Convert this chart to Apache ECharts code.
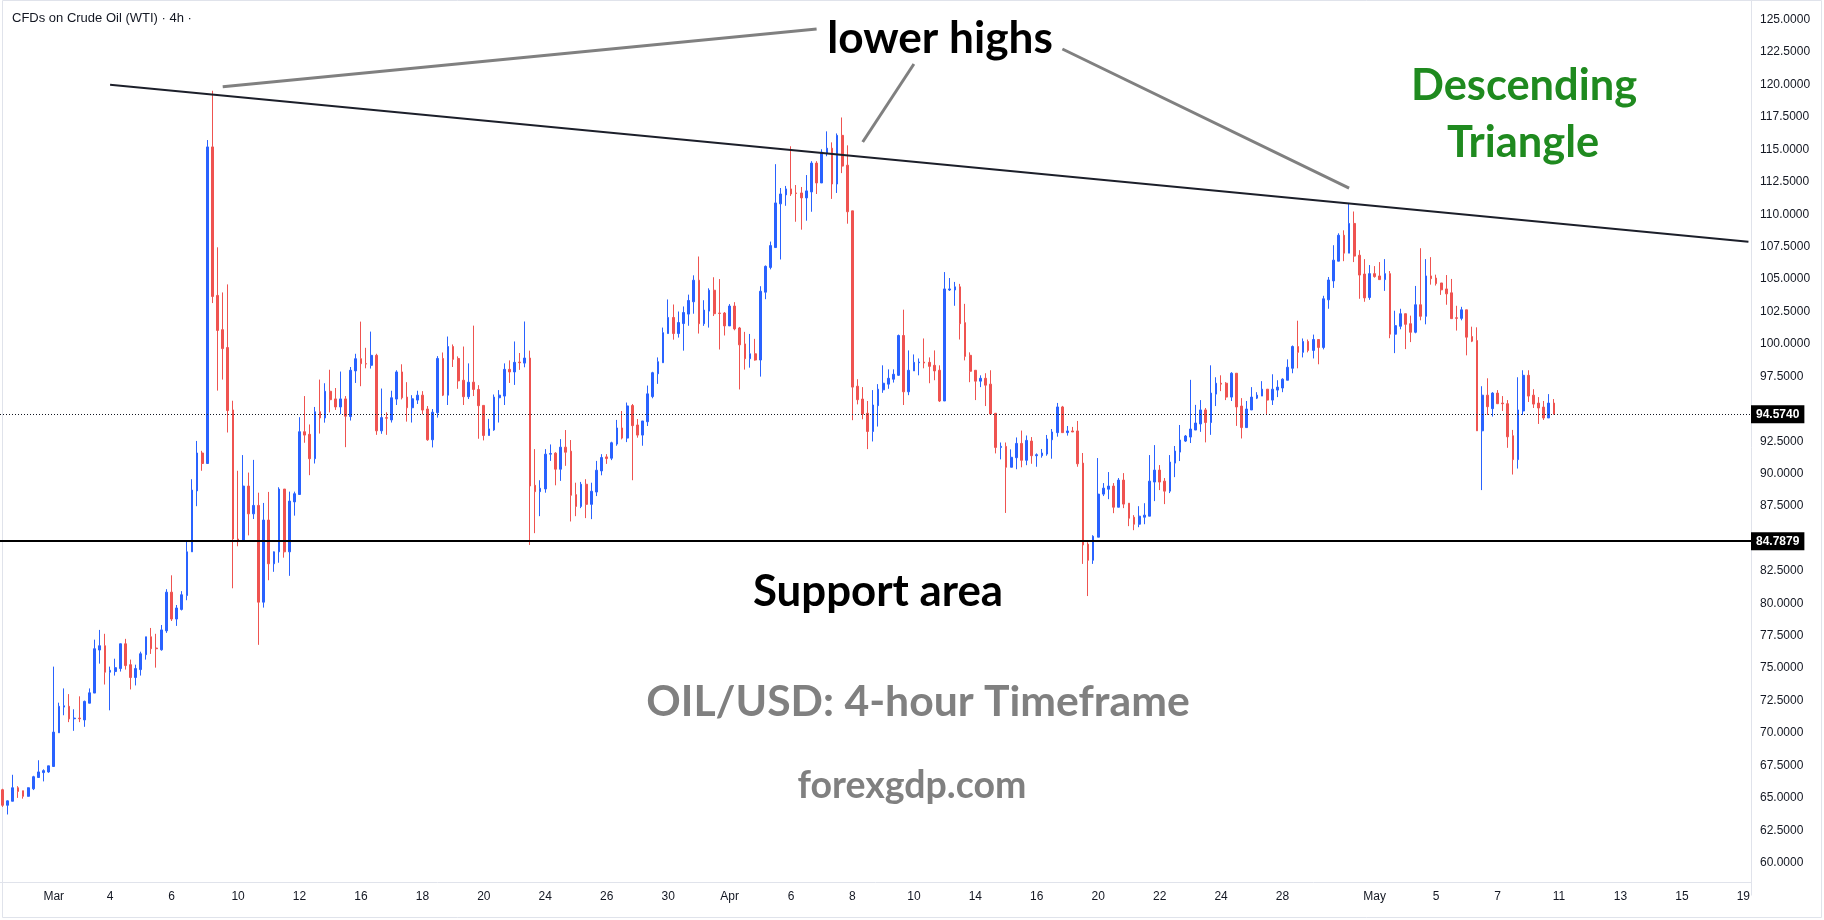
<!DOCTYPE html>
<html><head><meta charset="utf-8">
<script src="https://cdn.jsdelivr.net/npm/echarts@6/dist/echarts.min.js"></script>
<style>html,body{margin:0;padding:0;background:#fff}#c{width:1824px;height:920px}</style>
</head><body><div id="c"></div><script>
// ---- data (4h candles) ----
const openVals = [65.63,64.43,64.74,65.78,65.55,65.12,65.70,66.57,66.95,67.00,67.42,70.02,72.00,72.06,71.10,71.15,71.01,72.30,73.08,76.40,76.73,74.69,74.74,74.97,76.88,75.27,74.28,74.89,76.04,77.42,76.55,76.42,77.88,80.86,78.79,79.53,80.60,83.97,88.67,91.59,90.78,115.19,103.74,101.10,99.72,94.91,84.96,84.79,89.04,86.90,87.55,80.09,86.42,83.05,83.97,88.81,83.97,87.82,88.39,93.23,93.03,91.15,94.77,94.29,96.35,95.76,95.14,95.76,94.40,97.92,98.86,98.48,98.35,99.12,93.30,94.32,94.14,95.75,97.84,95.90,95.08,95.67,96.05,94.98,92.61,94.70,98.88,96.05,99.80,98.88,97.20,95.93,97.05,96.49,95.26,92.94,93.37,95.85,95.98,98.04,97.84,98.60,98.52,98.91,89.10,88.61,88.82,91.50,91.58,90.34,92.04,91.73,88.38,87.47,89.18,87.63,88.58,90.21,91.29,91.19,92.28,93.52,92.74,95.25,93.75,92.97,94.00,95.94,97.70,98.55,100.80,102.04,100.80,101.57,102.30,103.25,104.91,101.56,102.53,104.14,102.38,102.38,101.39,102.92,101.23,100.00,98.86,99.24,98.76,103.99,105.90,107.43,110.80,111.49,111.95,111.64,111.64,111.26,111.72,113.94,112.41,114.71,115.09,112.33,116.08,113.78,110.26,96.74,95.75,94.65,93.25,95.24,96.46,96.90,97.28,97.58,100.65,96.31,97.92,98.55,98.60,98.58,98.35,97.97,95.60,104.16,104.16,104.40,101.64,99.12,97.97,97.13,97.35,96.90,94.65,92.02,92.10,90.49,91.23,92.33,91.03,92.51,91.38,91.38,91.51,92.61,93.16,95.14,93.16,93.29,93.29,90.81,84.56,83.32,85.10,88.42,88.80,89.04,87.41,89.50,87.72,86.64,86.10,86.64,86.72,89.35,90.27,89.42,88.65,90.81,91.66,92.51,92.82,93.36,93.83,94.91,93.94,96.13,96.97,96.97,95.90,97.74,95.21,93.55,94.91,95.82,95.98,96.51,95.67,96.44,96.60,97.20,98.12,99.80,99.35,100.19,99.50,100.34,99.73,103.40,104.86,106.38,108.38,107.00,109.29,106.84,105.39,103.58,105.42,105.24,104.96,105.42,100.75,101.36,102.33,101.56,100.90,103.02,102.13,105.24,105.08,104.70,104.24,103.94,102.02,101.97,102.63,100.57,100.26,93.30,96.05,95.01,96.21,95.44,95.39,92.92,91.08,94.83,97.58,96.05,95.44,95.13,94.29,95.44];
const closeVals = [64.43,64.77,65.78,65.50,65.12,65.78,66.63,67.00,67.10,67.47,70.07,72.06,72.10,71.09,71.15,71.10,72.44,73.10,76.50,76.73,74.69,74.84,75.04,76.88,75.20,74.28,74.97,76.11,77.42,76.50,76.50,77.95,80.86,78.79,79.64,80.66,83.97,88.73,91.59,90.78,115.19,103.66,101.04,99.64,94.86,84.96,84.79,89.04,86.90,87.55,80.09,86.42,83.05,83.97,88.81,83.97,87.88,88.45,93.23,92.97,91.15,94.77,94.29,96.35,95.70,95.14,95.76,94.43,97.97,98.86,98.48,98.45,99.12,93.30,94.32,94.27,95.85,97.84,95.85,95.08,95.77,96.05,94.90,92.61,94.73,98.88,96.05,99.80,98.81,97.15,95.93,97.05,96.49,95.24,92.94,93.45,95.90,96.05,98.04,97.84,98.58,98.55,98.91,89.05,88.61,88.87,91.50,91.55,90.34,92.04,91.65,88.33,87.47,89.18,87.63,88.64,90.26,91.24,91.16,92.38,93.52,92.74,95.22,93.70,92.97,94.06,96.15,97.78,98.63,100.87,102.04,100.80,101.65,102.42,103.35,104.91,101.56,102.61,104.14,102.33,102.35,101.39,102.92,101.16,99.93,98.86,99.24,98.76,104.06,105.98,107.58,110.87,111.56,111.95,111.56,111.60,111.26,111.80,113.94,112.41,114.78,115.09,112.33,116.08,113.71,110.19,96.67,95.70,94.60,93.25,95.29,96.51,96.97,97.35,97.66,100.65,96.31,97.97,98.58,98.60,98.53,98.27,97.92,95.60,104.24,104.24,104.40,101.56,99.04,97.89,97.13,97.35,96.82,94.60,92.02,92.10,90.49,91.26,92.33,91.03,92.56,91.38,91.46,91.59,92.67,93.21,95.14,93.16,93.29,93.21,90.76,84.50,83.32,85.17,88.42,88.88,89.04,87.41,89.50,87.65,86.56,86.10,86.72,86.80,89.42,90.27,89.35,88.65,90.89,91.74,92.59,92.90,93.44,93.90,94.91,93.94,96.21,96.97,96.90,95.90,97.74,95.14,93.55,94.98,95.90,96.05,96.51,95.67,96.51,96.67,97.28,98.20,99.80,99.35,100.19,99.50,100.34,99.73,103.48,104.93,106.46,108.38,107.00,109.29,106.77,105.31,103.55,105.42,105.19,104.96,105.42,100.75,101.41,102.33,101.51,100.90,103.02,102.13,105.24,105.03,104.65,104.17,103.86,101.95,101.97,102.63,100.52,100.21,93.30,96.05,95.16,96.21,95.39,95.39,92.84,91.08,94.91,97.58,95.98,95.36,95.06,94.29,95.44,94.57];
const lowVals = [64.30,63.72,64.74,65.00,64.94,65.10,65.60,66.57,66.27,66.93,67.40,70.00,71.37,70.84,70.17,70.84,70.48,72.30,73.08,75.35,73.74,71.75,74.43,74.74,74.89,73.36,73.67,74.43,75.66,76.10,75.04,76.35,77.72,78.64,78.26,79.45,80.24,83.97,87.49,90.22,90.78,103.15,96.40,97.25,93.17,81.16,84.40,84.73,85.24,86.50,76.80,79.67,81.78,82.43,83.13,83.52,82.12,86.76,88.39,92.38,89.88,90.78,93.09,93.93,94.72,94.91,94.58,92.04,94.09,96.99,96.74,98.12,98.10,92.99,93.07,92.99,93.94,95.29,95.72,94.01,93.94,95.37,94.57,92.53,92.02,94.32,95.98,95.29,98.22,96.54,95.29,95.75,95.98,92.69,92.56,92.94,93.30,93.94,95.29,96.99,96.84,98.00,98.20,84.50,85.41,86.72,88.53,90.98,89.10,89.44,90.60,86.31,86.72,87.34,86.57,86.49,88.27,89.87,90.75,91.04,92.15,92.64,92.43,89.49,92.77,92.15,93.67,95.81,96.92,98.55,100.80,100.33,100.49,99.48,101.40,102.33,100.80,101.39,101.26,102.15,99.57,100.65,101.39,101.05,96.49,98.02,98.17,98.71,97.48,103.45,105.75,107.43,106.51,110.65,111.41,109.42,108.81,109.50,110.19,111.56,112.41,114.47,111.18,111.64,113.17,109.27,94.12,95.34,94.19,91.89,92.48,93.63,96.23,96.54,97.02,97.53,95.29,96.05,97.92,97.58,98.12,96.97,97.20,95.52,95.60,104.09,102.94,100.34,98.73,97.05,95.67,96.67,95.21,94.60,91.56,91.10,86.97,90.49,90.34,90.49,90.65,90.76,90.53,91.23,91.38,91.15,92.85,93.16,92.93,93.21,90.53,83.04,80.56,83.04,85.10,88.27,88.03,86.95,87.41,87.34,85.95,85.64,85.87,86.10,86.72,87.88,88.73,87.65,88.50,89.73,90.97,92.44,92.36,93.36,93.22,92.41,92.99,95.21,96.36,95.67,95.60,93.68,92.71,93.55,94.91,95.75,95.98,94.60,95.29,95.90,96.28,97.20,97.74,98.12,98.96,99.35,98.88,98.43,99.58,102.71,104.32,106.38,106.38,107.00,106.31,103.48,103.25,103.40,105.11,104.96,104.09,100.44,99.29,101.13,99.60,100.14,100.82,101.82,101.51,104.57,104.50,103.78,103.02,101.95,101.03,101.82,99.12,100.14,93.30,88.73,94.52,94.40,95.39,94.83,91.99,89.93,90.39,94.52,95.52,95.06,93.83,94.14,94.29,94.57];
const highVals = [65.70,64.80,66.78,65.90,65.55,65.80,66.70,67.90,67.20,67.47,75.12,72.34,73.44,73.00,71.83,72.83,72.50,73.44,77.20,77.95,77.65,75.12,75.73,76.90,77.26,75.66,75.27,76.27,77.42,78.10,77.65,78.33,81.09,82.16,79.87,80.94,84.87,89.57,92.52,91.76,115.72,119.52,107.45,103.97,104.59,95.62,90.22,91.43,90.08,91.06,88.53,87.74,88.59,84.00,88.95,88.81,88.61,88.61,94.35,95.98,93.79,95.14,97.25,96.97,98.01,96.60,97.87,95.98,98.22,99.24,101.72,99.70,100.95,99.24,96.56,94.73,96.39,97.97,98.43,97.05,96.05,96.39,96.36,95.21,94.98,99.06,99.34,100.57,99.96,99.04,99.80,98.50,101.41,96.82,95.26,94.22,96.10,96.44,98.50,98.73,100.19,99.30,101.73,99.48,91.89,89.49,91.89,92.25,91.65,92.66,93.36,92.59,89.30,89.36,89.57,89.30,90.98,91.50,91.50,92.46,94.14,94.83,95.48,95.37,94.21,94.06,96.79,97.85,98.96,101.26,103.43,103.04,102.50,102.89,103.80,105.29,106.74,103.37,104.29,105.14,105.00,102.46,103.07,103.22,101.31,100.93,100.77,100.39,104.45,106.05,107.89,113.86,112.02,112.18,115.24,112.25,112.10,113.02,114.09,114.09,115.01,116.39,115.54,116.23,117.46,115.31,110.26,97.28,96.67,95.60,96.44,96.90,98.35,98.04,98.04,100.72,102.64,99.50,99.19,98.88,100.42,98.96,99.50,98.35,105.54,105.08,104.78,104.63,103.09,99.35,97.97,97.58,97.74,97.97,94.65,92.40,92.40,91.87,92.79,93.32,92.94,92.82,91.56,91.90,92.98,93.44,95.45,95.22,93.67,93.60,94.06,91.59,84.71,85.25,91.20,89.27,90.12,89.27,89.66,90.04,87.72,86.80,87.49,87.72,91.43,92.20,90.66,89.66,91.43,92.13,93.75,92.98,97.23,95.30,95.67,95.06,98.35,97.43,97.58,97.05,97.82,97.74,95.82,95.60,96.67,96.28,97.13,96.51,97.66,97.20,97.35,98.81,99.88,101.79,100.42,100.34,100.72,100.34,103.71,105.16,107.61,108.53,108.76,110.82,110.21,107.23,106.54,106.08,106.00,106.31,106.54,105.62,102.56,102.71,102.33,102.18,104.47,107.38,106.54,106.69,105.34,104.70,105.31,105.01,102.94,102.86,102.63,101.33,101.28,96.74,97.35,96.28,96.44,95.98,95.67,93.37,97.43,97.97,97.97,96.51,95.90,95.60,96.13,95.75];
const tickLabels = ['Mar','4','6','10','12','16','18','20','24','26','30','Apr','6','8','10','14','16','20','22','24','28','May','5','7','11','13','15','19'];
const tickSlots  = [10,21,33,46,58,70,82,94,106,118,130,142,154,166,178,190,202,214,226,238,250,268,280,292,304,316,328,340];
const slotCount = 342;
const lastPrice = 94.5740;
const supportLevel = 84.7879;
const trendLine = [[21, 119.99], [341, 107.88]];
const pointerLines = [
  [[42.7, 119.82], [158.5, 124.29]],
  [[177.8, 121.58], [167.7, 115.57]],
  [[206.7, 122.74], [262.6, 112.02]]
];

// ---- build ----
const cats = [];
for (let i = 0; i < slotCount; i++) cats.push('');
tickSlots.forEach((s, j) => { cats[s] = tickLabels[j]; });
const candles = openVals.map((o, i) => [o, closeVals[i], lowVals[i], highVals[i]]);

const UP = '#2962FF', DOWN = '#EF5350', INK = '#131722';
const chart = echarts.init(document.getElementById('c'), null, {renderer: 'canvas'});

const boxLabel = (txt) => ({
  show: true, position: 'end', distance: 0, formatter: txt,
  backgroundColor: '#000', color: '#fff', fontSize: 12, fontWeight: 'bold',
  fontFamily: 'Liberation Sans, Arial, sans-serif', padding: [3, 5, 3, 5]
});

chart.setOption({
  animation: false,
  backgroundColor: '#fff',
  grid: {left: 0, right: 73, top: -12.75, height: 907.9, outerBoundsMode: 'none', containLabel: false},
  xAxis: {
    type: 'category', data: cats, boundaryGap: true, offset: -13.2,
    axisLine: {show: true, lineStyle: {color: '#e0e3eb'}},
    axisTick: {show: false}, splitLine: {show: false},
    axisLabel: {interval: 0, color: INK, fontSize: 12, margin: 9,
      fontFamily: 'Liberation Sans, Arial, sans-serif'}
  },
  yAxis: {
    type: 'value', position: 'right', min: 57.5, max: 127.5, interval: 2.5, scale: true,
    axisLine: {show: true, lineStyle: {color: '#e0e3eb'}},
    axisTick: {show: false}, splitLine: {show: false},
    axisLabel: {color: INK, fontSize: 12, margin: 9,
      fontFamily: 'Liberation Sans, Arial, sans-serif',
      formatter: (v) => (v > 125 || v < 60 || Math.abs(v - lastPrice) < 1 || Math.abs(v - supportLevel) < 1) ? '' : v.toFixed(4)}
  },
  series: [{
    type: 'candlestick',
    data: candles,
    barWidth: 2.2,
    itemStyle: {color: UP, color0: DOWN, borderColor: UP, borderColor0: DOWN, borderWidth: 1},
    markLine: {
      symbol: 'none', silent: true, animation: false,
      data: [
        {yAxis: supportLevel, lineStyle: {color: '#000', width: 2, type: 'solid'},
         label: boxLabel(supportLevel.toFixed(4))},
        {yAxis: lastPrice, lineStyle: {color: INK, width: 1, type: [1, 2]},
         label: boxLabel(lastPrice.toFixed(4))},
        [{coord: trendLine[0], lineStyle: {color: '#1c1f2a', width: 2, type: 'solid'}, label: {show: false}},
         {coord: trendLine[1], lineStyle: {color: '#1c1f2a', width: 2, type: 'solid'}, label: {show: false}}]
      ]
    }
  }]
});

// ---- annotations ----
function fitFont(text, weight, family, targetW) {
  const cv = document.createElement('canvas').getContext('2d');
  cv.font = weight + ' 100px ' + family;
  return 100 * targetW / cv.measureText(text).width;
}
const FAM = 'Lato';
const notes = [
  {text: 'lower highs', cx: 940, base: 52, w: 226, fill: '#000'},
  {text: 'Descending', cx: 1524, base: 99, w: 226, fill: '#1f8a1f'},
  {text: 'Triangle', cx: 1523, base: 156, w: 226, fill: '#1f8a1f', sizeFrom: 'Descending'},
  {text: 'Support area', cx: 878, base: 605, w: 250, fill: '#000'},
  {text: 'OIL/USD: 4-hour Timeframe', cx: 918, base: 715, w: 544, fill: '#808080'},
  {text: 'forexgdp.com', cx: 912, base: 797, w: 229, fill: '#808080'}
];
const g = [];
pointerLines.forEach(([a, b]) => {
  const p1 = chart.convertToPixel({gridIndex: 0}, a);
  const p2 = chart.convertToPixel({gridIndex: 0}, b);
  g.push({type: 'line', shape: {x1: p1[0], y1: p1[1], x2: p2[0], y2: p2[1]},
    style: {stroke: '#808080', lineWidth: 3}, z: 50});
});
notes.forEach(n => {
  const size = fitFont(n.sizeFrom || n.text, 'bold', FAM, n.w);
  g.push({type: 'text', x: n.cx, y: n.base - 0.3 * size, z: 60,
    style: {text: n.text, fill: n.fill, font: 'bold ' + size.toFixed(1) + 'px ' + FAM,
      align: 'center', verticalAlign: 'middle'}});
});
g.push({type: 'text', x: 12, y: 18, z: 60,
  style: {text: 'CFDs on Crude Oil (WTI) · 4h ·', fill: INK, font: '13px "Liberation Sans", Arial, sans-serif',
    align: 'left', verticalAlign: 'middle'}});
g.push({type: 'rect', shape: {x: 2.5, y: 0.5, width: 1819, height: 917}, style: {fill: 'none', stroke: '#e0e3eb', lineWidth: 1}, z: 1, silent: true});
chart.setOption({graphic: g});
</script></body></html>
